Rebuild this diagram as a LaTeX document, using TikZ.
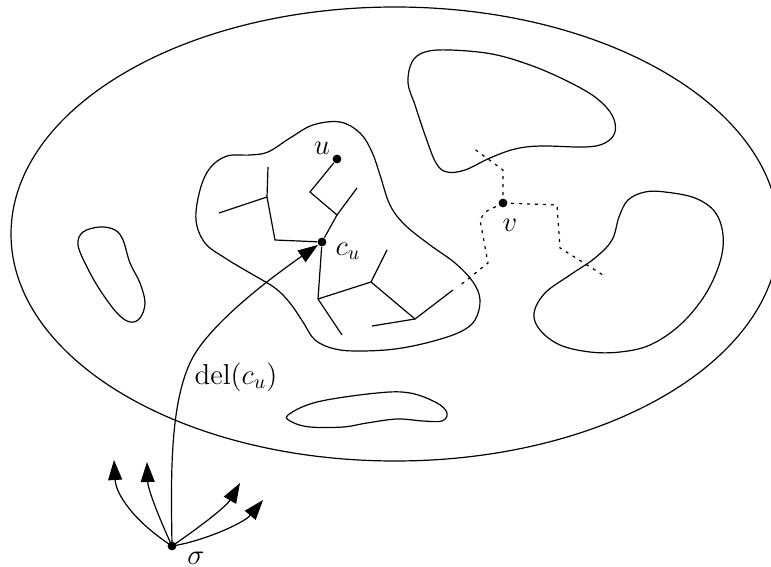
\documentclass[tikz,border=0pt]{standalone}
\usetikzlibrary{arrows.meta}
\begin{document}
\begin{tikzpicture}[x=0.5pt,y=-0.5pt, line width=0.6pt,
  dot/.style={circle,fill,inner sep=0pt,minimum size=4.4pt},
  lbl/.style={inner sep=0pt,font=\fontsize{14}{17}\selectfont},
  tip/.style={-{Triangle[length=10pt,width=7pt]}},
  dots/.style={dash pattern=on 1.5pt off 2.5pt}]
\useasboundingbox (0,0) rectangle (771,567);
\clip (0,0) rectangle (771,567);
% outer region
\draw (395,234) ellipse [x radius=384, y radius=227];
% central blob
\draw plot[smooth cycle, tension=0.6] coordinates {(227,156) (250,155) (268,152) (290,138) (313,125) (340,122) (360,133) (372,152) (380,175) (390,205) (405,225) (430,245) (455,263) (473,282) (480,300) (475,320) (460,332) (430,342) (395,349) (360,351) (335,349) (315,340) (303,322) (290,303) (275,288) (250,273) (225,258) (205,243) (196,220) (200,190) (210,168)};
% upper right blob
\draw plot[smooth cycle, tension=0.6] coordinates {(408,83) (412,62) (425,52) (450,50) (492,54) (530,65) (565,80) (595,97) (612,115) (615,132) (605,143) (585,147) (541,146) (515,149) (490,158) (465,170) (447,172) (436,163) (425,135) (415,105)};
% right blob
\draw plot[smooth cycle, tension=0.6] coordinates {(619,217) (628,200) (645,192) (665,192) (695,198) (715,212) (723,235) (720,262) (705,295) (680,325) (650,345) (620,352) (590,352) (560,345) (540,330) (534,313) (545,293) (570,275) (595,258) (612,240)};
% left blob
\draw plot[smooth cycle, tension=0.6] coordinates {(100,227) (115,230) (123,240) (130,263) (140,283) (145,303) (140,318) (130,322) (117,313) (100,290) (87,267) (78,245) (83,232)};
% bottom blob
\draw plot[smooth cycle, tension=0.6] coordinates {(288,415) (317,402) (377,393) (410,393) (437,403) (447,413) (442,421) (423,421) (397,419) (367,423) (343,427) (310,427) (292,422)};
% tree
\node[dot] (u) at (337,159) {};
\node[dot] (cu) at (322,242) {};
\node[lbl] (ulab) at (322,148) {$u$};
\node[lbl] (culab) at (348,251) {$c_u$};
\coordinate (t1) at (310,192);
\coordinate (t2) at (337,215);
\coordinate (t3) at (357,188);
\coordinate (t4) at (275,240);
\coordinate (t5) at (268,167);
\coordinate (t6) at (267,197);
\coordinate (t7) at (219,213);
\coordinate (t8) at (318,299);
\coordinate (t9) at (342,335);
\coordinate (t10) at (371,282);
\coordinate (t11) at (387,250);
\coordinate (t12) at (415,319);
\coordinate (t13) at (453,290);
\coordinate (t14) at (372,326);
\draw (u) -- (t1) -- (t2) -- (cu);
\draw (t2) -- (t3);
\draw (cu) -- (t4) -- (t6) -- (t5);
\draw (t6) -- (t7);
\draw (cu) -- (t8) -- (t9);
\draw (t8) -- (t10) -- (t11);
\draw (t10) -- (t12) -- (t13);
\draw (t12) -- (t14);
% v and dotted paths
\node[dot] (v) at (503,203) {};
\node[lbl] (vlab) at (510,225) {$v$};
\coordinate (d1) at (503,170);
\coordinate (d2) at (473,148);
\coordinate (d3) at (557,205);
\coordinate (d4) at (560,248);
\coordinate (d5) at (603,275);
\coordinate (d6) at (485,212);
\coordinate (d7) at (480,220);
\coordinate (d8) at (488,263);
\coordinate (d9) at (458,287);
\draw[dots] (v.center) -- (d1) -- (d2);
\draw[dots] (v.center) -- (d3) -- (d4) -- (d5);
\draw[dots] (v.center) -- (d6) -- (d7) -- (d8) -- (d9);
% sigma and arrows
\node[dot] (sigma) at (172,546) {};
\node[lbl] (siglab) at (196,558) {$\sigma$};
\coordinate (a1) at (114,460);
\coordinate (a2) at (147,462);
\coordinate (a3) at (240,483);
\coordinate (a4) at (263,500);
\coordinate (m) at (193,357);
\draw[tip] (sigma.center) .. controls (135,522) and (116,495) .. (a1);
\draw[tip] (sigma.center) .. controls (160,520) and (148,490) .. (a2);
\draw[tip] (sigma.center) .. controls (197,529) and (226,507) .. (a3);
\draw[tip] (sigma.center) .. controls (200,542) and (243,524) .. (a4);
\draw[tip] (sigma.center) .. controls (171,480) and (169,401) .. (m)
  .. controls (215,318) and (282,270) .. (cu.216);
\node[lbl] (dellab) at (236,377) {$\mathrm{del}(c_u)$};
\end{tikzpicture}
\end{document}
